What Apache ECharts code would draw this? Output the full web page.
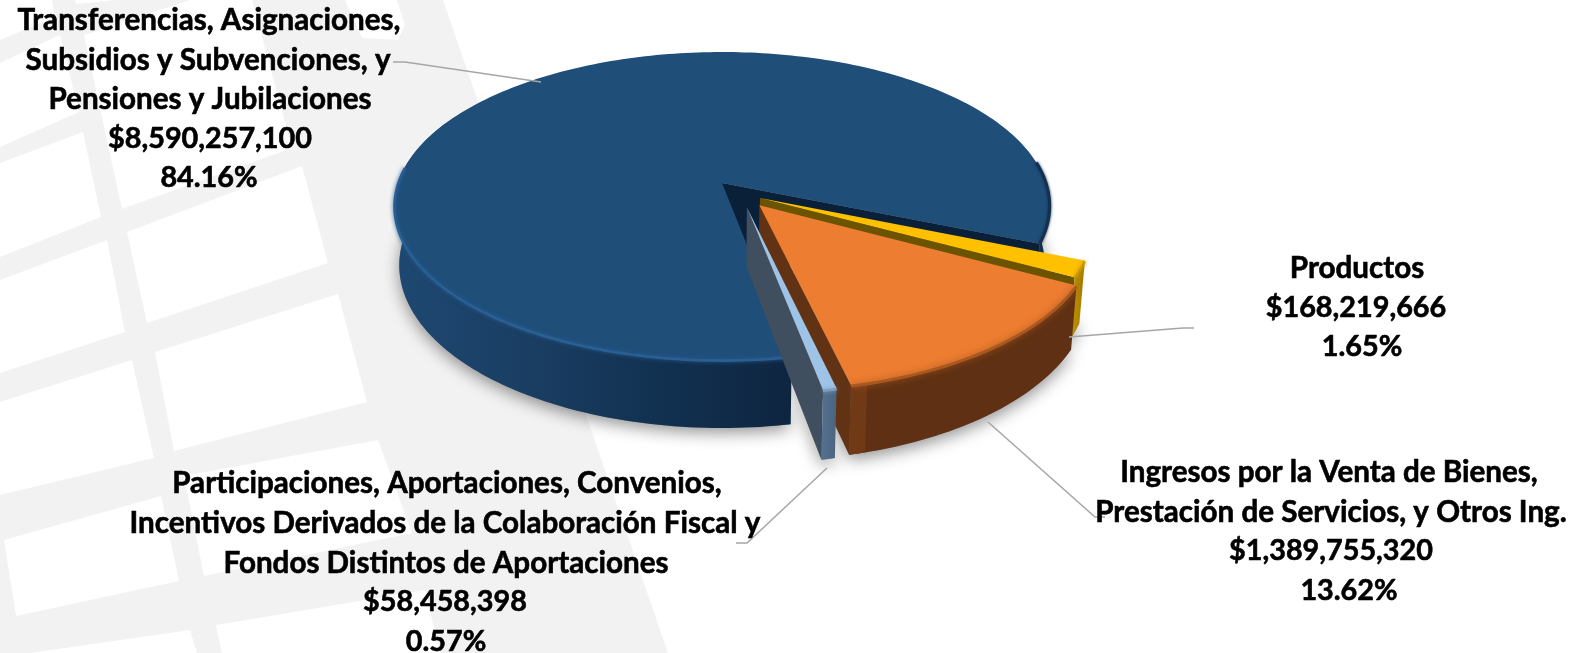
<!DOCTYPE html>
<html>
<head>
<meta charset="utf-8">
<style>html,body{margin:0;padding:0;background:#fff}#c{width:1573px;height:653px}</style>
<script src="https://cdn.jsdelivr.net/npm/echarts@6/dist/echarts.min.js"></script>
</head>
<body>
<div id="c"></div>
<script>
// ---- data (clockwise from the right-hand edge of the big slice) ----
const categoryLines = [
  ['Productos'],
  ['Ingresos por la Venta de Bienes,', 'Prestación de Servicios, y Otros Ing.'],
  ['Participaciones, Aportaciones, Convenios,', 'Incentivos Derivados de la Colaboración Fiscal y', 'Fondos Distintos de Aportaciones'],
  ['Transferencias, Asignaciones,', 'Subsidios y Subvenciones, y', 'Pensiones y Jubilaciones']
];
const values = [168219666, 1389755320, 58458398, 8590257100];

// ---- styles ----
const topColors  = ['#FFC000', '#ED7D31', '#9DC3E6', '#1F4E79'];
const wallColors = ['#6b5300', '#613214', '#3f4f5f', '#0a2039'];
const sideStops  = [
  ['#c89600', '#a07800'],
  ['#703a17', '#5f3013'],
  ['#54718e', '#4a6580'],
  ['#1e4872', '#0e2540']
];
const edgeColors = ['#c99700', '#a9581f', '#7f9fbf', '#2a5f94'];
const explode    = [0.065, 0.093, 0.09, 0.09];
const paintOrder = [3, 0, 1, 2];
const startAngle = 22.4;

// ---- perspective of the disc ----
const CX = 722, CY = 183, RX = 324, RY = 150.5, PERSP = 0.149, DEPTH = 58, SHRINK = 0.015;
function project(u, v, z) {
  const w = 1 - PERSP * v, s = 1 - SHRINK * z;
  return [CX + RX * u / w * s, CY + RY * v / w + DEPTH * z / w];
}
const total = values.reduce((a, b) => a + b, 0);
const slices = [];
(function () {
  let a = startAngle;
  values.forEach((val) => {
    const sweep = val / total * 360;
    slices.push({a0: a, a1: a + sweep, mid: a + sweep / 2});
    a += sweep;
  });
  const rad = Math.PI / 180;
  const big = slices[3];
  const cu = -explode[3] * Math.cos(big.mid * rad), cv = -explode[3] * Math.sin(big.mid * rad);
  slices.forEach((s, i) => {
    s.u = cu + explode[i] * Math.cos(s.mid * rad);
    s.v = cv + explode[i] * Math.sin(s.mid * rad);
  });
})();
function rimPoint(i, deg, z) {
  const s = slices[i], t = deg * Math.PI / 180;
  return project(s.u + Math.cos(t), s.v + Math.sin(t), z);
}
function arc(i, from, to, z) {
  const pts = [], n = Math.max(2, Math.ceil(Math.abs(to - from) / 1.2));
  for (let k = 0; k <= n; k++) pts.push(rimPoint(i, from + (to - from) * k / n, z));
  return pts;
}
function apex(i, z) { return project(slices[i].u, slices[i].v, z); }
function sidePiece(i, from, to) {
  return arc(i, from, to, 0).concat(arc(i, to, from, 1));
}
function hGrad(a, b) {
  return {type: 'linear', x: 0, y: 0, x2: 1, y2: 0, colorStops: [{offset: 0, color: a}, {offset: 1, color: b}]};
}

function renderShadow(params, api) {
  const i = api.value(0), s = slices[i];
  return {
    type: 'polygon',
    shape: {points: [apex(i, 1)].concat(arc(i, s.a0, s.a1, 1))},
    style: {fill: '#888', shadowColor: 'rgba(0,0,0,0.42)', shadowBlur: 16, shadowOffsetY: 5}
  };
}

function renderSlice(params, api) {
  const i = api.value(0), s = slices[i], kids = [];
  // cut wall at the clockwise end of the slice
  kids.push({type: 'polygon', shape: {points: [apex(i, 0), rimPoint(i, s.a1, 0), rimPoint(i, s.a1, 1), apex(i, 1)]},
    style: {fill: wallColors[i]}});
  // outer rim: only the part turned to the viewer
  if (i === 3) {
    kids.push({type: 'polygon', shape: {points: sidePiece(i, 360, s.a1)}, style: {fill: '#14304f'}});
    kids.push({type: 'polygon', shape: {points: sidePiece(i, s.a0, 205)},
      style: {fill: {type: 'linear', x: 1, y: 0, x2: 0, y2: 0, colorStops: [
        {offset: 0, color: '#0e2540'}, {offset: 0.3, color: '#11304f'}, {offset: 0.65, color: '#1a3d62'}, {offset: 1, color: '#1e4872'}]}}});
  } else {
    const stops = sideStops[i];
    kids.push({type: 'polygon', shape: {points: sidePiece(i, s.a0, s.a1)},
      style: {fill: i === 1 ? hGrad(stops[1], stops[1]) : hGrad(stops[0], stops[1])}});
    if (i === 1) {
      kids.push({type: 'polygon', shape: {points: sidePiece(i, s.a1 - 2.5, s.a1)}, style: {fill: stops[0]}});
    }
  }
  // top face
  kids.push({type: 'polygon', shape: {points: [apex(i, 0)].concat(arc(i, s.a0, s.a1, 0))}, style: {fill: topColors[i]}});
  // bevel along the near rim
  const from = i === 3 ? s.a0 + 0.3 : s.a0, to = i === 3 ? 186 : s.a1;
  kids.push({type: 'polyline', shape: {points: arc(i, from, to, 0.012)},
    style: {fill: null, stroke: edgeColors[i], lineWidth: i === 1 ? 3 : 2.5, shadowColor: edgeColors[i], shadowBlur: i === 1 ? 7 : 4}});
  if (i === 3) {
    kids.push({type: 'polyline', shape: {points: arc(i, 352, s.a1, 0)},
      style: {fill: null, stroke: '#14304f', lineWidth: 3, shadowColor: '#14304f', shadowBlur: 3}});
  }
  return {type: 'group', children: kids};
}

// ---- backdrop panes (light-grey building on white) ----
const GREY = '#F2F2F2';
const buildingOutline = [[0,0],[443,0],[668,653],[0,653]];
const windowPanes = [
  [[0,0],[52,0],[55,17],[0,40]],
  [[75,0],[117,0],[76,4]],
  [[0,63],[60,35],[79,112],[0,147]],
  [[0,163],[83,132],[101,217],[0,257]],
  [[84,35],[190,0],[252,0],[292,148],[122,209]],
  [[345,0],[397,0],[405,25],[398,40],[362,38]],
  [[127,232],[302,166],[328,263],[147,323]],
  [[0,280],[107,240],[125,332],[0,373]],
  [[155,352],[338,294],[367,402],[174,451]],
  [[0,402],[132,360],[154,458],[0,495]],
  [[4,540],[161,496],[179,581],[16,616]],
  [[184,476],[378,440],[412,533],[204,576]],
  [[216,625],[425,590],[440,653],[222,653]],
  [[30,653],[190,630],[197,653]]
];

// ---- label layout: [x centre, y centre] per printed line ----
const labelLayout = [
  {lines: [[1357,268],[1356,308],[1362,347]]},
  {lines: [[1329,472],[1331,512],[1331,551],[1349,591]]},
  {lines: [[447,483],[445,523],[446,563],[445,602],[446,642]]},
  {lines: [[209,20],[208,60],[210,99],[210,139],[209,178]]}
];
const leaderLines = [
  [[1069,337],[1183,328],[1194,328]],
  [[988,422],[1095,517],[1105,517]],
  [[827,468],[747,543],[736,543]],
  [[541,82],[405,62],[393,62]]
];
const FONT_SIZE = 29.6, NUMBER_FONT_SIZE = 28.8;

const graphics = [];
graphics.push({type: 'polygon', z: 0, shape: {points: buildingOutline}, style: {fill: GREY}});
windowPanes.forEach(p => graphics.push({type: 'polygon', z: 0, shape: {points: p}, style: {fill: '#fff'}}));
leaderLines.forEach(p => graphics.push({type: 'polyline', z: 50, shape: {points: p},
  style: {fill: null, stroke: '#A6A6A6', lineWidth: 1.5}}));
values.forEach((v, i) => {
  const names = categoryLines[i];
  const texts = names.concat(['$' + v.toLocaleString('en-US'), (v / total * 100).toFixed(2) + '%']);
  texts.forEach((t, k) => {
    const pos = labelLayout[i].lines[k];
    graphics.push({type: 'text', z: 60, x: pos[0], y: pos[1],
      style: {text: t, fill: '#000', stroke: '#000', lineWidth: 0.6, fontFamily: 'Lato', fontWeight: 'bold',
        fontSize: k < names.length ? FONT_SIZE : NUMBER_FONT_SIZE, align: 'center', verticalAlign: 'middle'}});
  });
});

const chart = echarts.init(document.getElementById('c'), null, {renderer: 'canvas'});
const paintData = paintOrder.map(i => [i]);
chart.setOption({
  animation: false,
  backgroundColor: '#fff',
  graphic: {elements: graphics},
  series: [
    {type: 'custom', coordinateSystem: 'none', z: 2, silent: true, renderItem: renderShadow, data: paintData},
    {type: 'custom', coordinateSystem: 'none', z: 3, silent: true, renderItem: renderSlice, data: paintData}
  ]
});
</script>
</body>
</html>
